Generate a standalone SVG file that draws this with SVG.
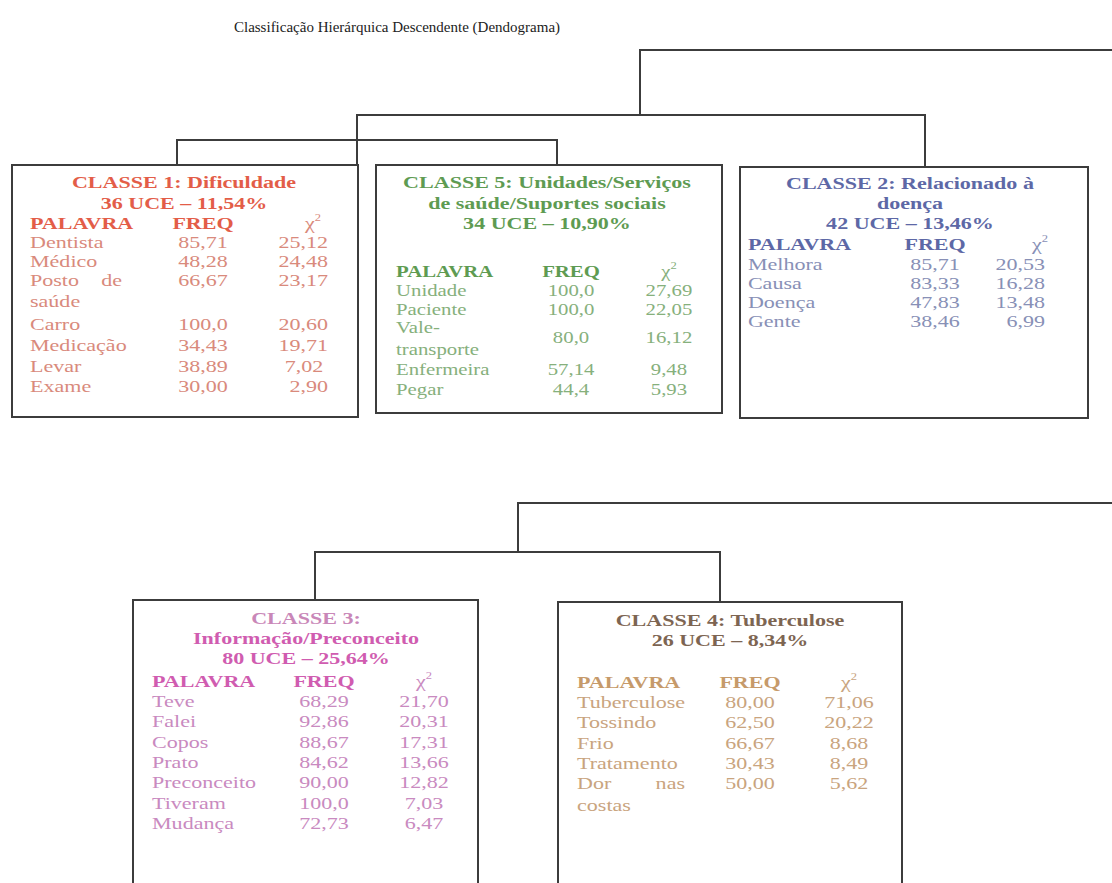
<svg xmlns="http://www.w3.org/2000/svg" width="1112" height="883" viewBox="0 0 1112 883">
<style>
text{font-family:"Liberation Serif","Times New Roman",serif;font-size:17.5px}
.h{font-weight:bold;text-anchor:middle}
.k{font-weight:bold}
.m{text-anchor:middle}
.r{text-anchor:end}
.box{fill:none;stroke:#3c3c3c;stroke-width:2}
.ln{fill:none;stroke:#3c3c3c;stroke-width:2}
.c1 .h,.c1 .k{fill:#e35d48}.c1 text{fill:#d98a7c}
.c5 .h,.c5 .k{fill:#5e9b52}.c5 text{fill:#86b07c}
.c2 .h,.c2 .k{fill:#5d68a6}.c2 text{fill:#8890b6}
.c3 .h,.c3 .k{fill:#d05cb0}.c3 text{fill:#c98ac0}
.c4 .k{fill:#c69a6a}.c4 text{fill:#c9a47e}.c4 .h{fill:#7d6552}
.sup{font-size:10px}
.t5 text{font-size:16.5px}
</style>
<rect width="1112" height="883" fill="#ffffff"/>
<text x="397" y="32" class="m" style="font-size:15px" fill="#222">Classificação Hierárquica Descendente (Dendograma)</text>

<g id="connectors">
<polyline class="ln" points="1112,50 640,50 640,115"/>
<polyline class="ln" points="357,165 357,115 925,115 925,167"/>
<polyline class="ln" points="177,165 177,140 557,140 557,165"/>
<polyline class="ln" points="1112,503 518,503 518,552"/>
<polyline class="ln" points="315,600 315,552 720,552 720,602"/>
</g>

<g id="classe1">
<rect class="box" x="12" y="165" width="346" height="252"/>
<g class="c1" transform="translate(12,0) scale(1.26,1)">
<text class="h" x="136.5" y="188">CLASSE 1: Dificuldade</text>
<text class="h" x="136.5" y="209">36 UCE – 11,54%</text>
<text class="k" x="14.3" y="229">PALAVRA</text><text class="k m" x="151.6" y="229">FREQ</text><text class="m" x="238.9" y="229">χ<tspan class="sup" dy="-8">2</tspan></text>
<text x="14.3" y="248">Dentista</text><text class="m" x="151.6" y="248">85,71</text><text class="r" x="250.8" y="248">25,12</text>
<text x="14.3" y="267">Médico</text><text class="m" x="151.6" y="267">48,28</text><text class="r" x="250.8" y="267">24,48</text>
<text x="14.3" y="286">Posto</text><text class="r" x="87.3" y="286">de</text><text class="m" x="151.6" y="286">66,67</text><text class="r" x="250.8" y="286">23,17</text>
<text x="14.3" y="307">saúde</text>
<text x="14.3" y="330">Carro</text><text class="m" x="151.6" y="330">100,0</text><text class="r" x="250.8" y="330">20,60</text>
<text x="14.3" y="351">Medicação</text><text class="m" x="151.6" y="351">34,43</text><text class="r" x="250.8" y="351">19,71</text>
<text x="14.3" y="372">Levar</text><text class="m" x="151.6" y="372">38,89</text><text class="r" x="247" y="372">7,02</text>
<text x="14.3" y="392">Exame</text><text class="m" x="151.6" y="392">30,00</text><text class="r" x="250.8" y="392">2,90</text>
</g>
</g>

<g id="classe5">
<rect class="box" x="376" y="165" width="346" height="248"/>
<g class="c5" transform="translate(376,0) scale(1.26,1)">
<text class="h" x="135.7" y="188">CLASSE 5: Unidades/Serviços</text>
<text class="h" x="135.7" y="209">de saúde/Suportes sociais</text>
<text class="h" x="135.7" y="229">34 UCE – 10,90%</text>
<g class="t5">
<text class="k" x="15.9" y="277">PALAVRA</text><text class="k m" x="154.8" y="277">FREQ</text><text class="m" x="232.5" y="277">χ<tspan class="sup" dy="-8">2</tspan></text>
<text x="15.9" y="296">Unidade</text><text class="m" x="154.8" y="296">100,0</text><text class="m" x="232.5" y="296">27,69</text>
<text x="15.9" y="315">Paciente</text><text class="m" x="154.8" y="315">100,0</text><text class="m" x="232.5" y="315">22,05</text>
<text x="15.9" y="333">Vale-</text><text class="m" x="154.8" y="343">80,0</text><text class="m" x="232.5" y="343">16,12</text>
<text x="15.9" y="355">transporte</text>
<text x="15.9" y="375">Enfermeira</text><text class="m" x="154.8" y="375">57,14</text><text class="m" x="232.5" y="375">9,48</text>
<text x="15.9" y="395">Pegar</text><text class="m" x="154.8" y="395">44,4</text><text class="m" x="232.5" y="395">5,93</text>
</g>
</g>
</g>

<g id="classe2">
<rect class="box" x="740" y="167" width="348" height="251"/>
<g class="c2" transform="translate(740,0) scale(1.26,1)">
<text class="h" x="134.9" y="189">CLASSE 2: Relacionado à</text>
<text class="h" x="134.9" y="209">doença</text>
<text class="h" x="134.9" y="229">42 UCE – 13,46%</text>
<text class="k" x="6.3" y="250">PALAVRA</text><text class="k m" x="154.8" y="250">FREQ</text><text class="m" x="238.1" y="250">χ<tspan class="sup" dy="-8">2</tspan></text>
<text x="6.3" y="270">Melhora</text><text class="m" x="154.8" y="270">85,71</text><text class="r" x="242.1" y="270">20,53</text>
<text x="6.3" y="289">Causa</text><text class="m" x="154.8" y="289">83,33</text><text class="r" x="242.1" y="289">16,28</text>
<text x="6.3" y="308">Doença</text><text class="m" x="154.8" y="308">47,83</text><text class="r" x="242.1" y="308">13,48</text>
<text x="6.3" y="327">Gente</text><text class="m" x="154.8" y="327">38,46</text><text class="r" x="242.1" y="327">6,99</text>
</g>
</g>

<g id="classe3">
<rect class="box" x="133" y="600" width="345" height="300"/>
<g class="c3" transform="translate(133,0) scale(1.26,1)">
<text class="h" x="137.3" y="624" style="fill:#c987b8">CLASSE 3:</text>
<text class="h" x="137.3" y="644">Informação/Preconceito</text>
<text class="h" x="137.3" y="664">80 UCE – 25,64%</text>
<text class="k" x="15.1" y="687">PALAVRA</text><text class="k m" x="151.6" y="687">FREQ</text><text class="m" x="231" y="687">χ<tspan class="sup" dy="-8">2</tspan></text>
<text x="15.1" y="707">Teve</text><text class="m" x="151.6" y="707">68,29</text><text class="m" x="231" y="707">21,70</text>
<text x="15.1" y="727">Falei</text><text class="m" x="151.6" y="727">92,86</text><text class="m" x="231" y="727">20,31</text>
<text x="15.1" y="748">Copos</text><text class="m" x="151.6" y="748">88,67</text><text class="m" x="231" y="748">17,31</text>
<text x="15.1" y="768">Prato</text><text class="m" x="151.6" y="768">84,62</text><text class="m" x="231" y="768">13,66</text>
<text x="15.1" y="788">Preconceito</text><text class="m" x="151.6" y="788">90,00</text><text class="m" x="231" y="788">12,82</text>
<text x="15.1" y="809">Tiveram</text><text class="m" x="151.6" y="809">100,0</text><text class="m" x="231" y="809">7,03</text>
<text x="15.1" y="829">Mudança</text><text class="m" x="151.6" y="829">72,73</text><text class="m" x="231" y="829">6,47</text>
</g>
</g>

<g id="classe4">
<rect class="box" x="558" y="602" width="344" height="300"/>
<g class="c4" transform="translate(558,0) scale(1.26,1)">
<text class="h" x="136.5" y="626">CLASSE 4: Tuberculose</text>
<text class="h" x="136.5" y="646">26 UCE – 8,34%</text>
<text class="k" x="15.1" y="688">PALAVRA</text><text class="k m" x="152.4" y="688">FREQ</text><text class="m" x="231" y="688">χ<tspan class="sup" dy="-8">2</tspan></text>
<text x="15.1" y="708">Tuberculose</text><text class="m" x="152.4" y="708">80,00</text><text class="m" x="231" y="708">71,06</text>
<text x="15.1" y="728">Tossindo</text><text class="m" x="152.4" y="728">62,50</text><text class="m" x="231" y="728">20,22</text>
<text x="15.1" y="749">Frio</text><text class="m" x="152.4" y="749">66,67</text><text class="m" x="231" y="749">8,68</text>
<text x="15.1" y="769">Tratamento</text><text class="m" x="152.4" y="769">30,43</text><text class="m" x="231" y="769">8,49</text>
<text x="15.1" y="789">Dor</text><text class="r" x="100.8" y="789">nas</text><text class="m" x="152.4" y="789">50,00</text><text class="m" x="231" y="789">5,62</text>
<text x="15.1" y="811">costas</text>
</g>
</g>
</svg>
